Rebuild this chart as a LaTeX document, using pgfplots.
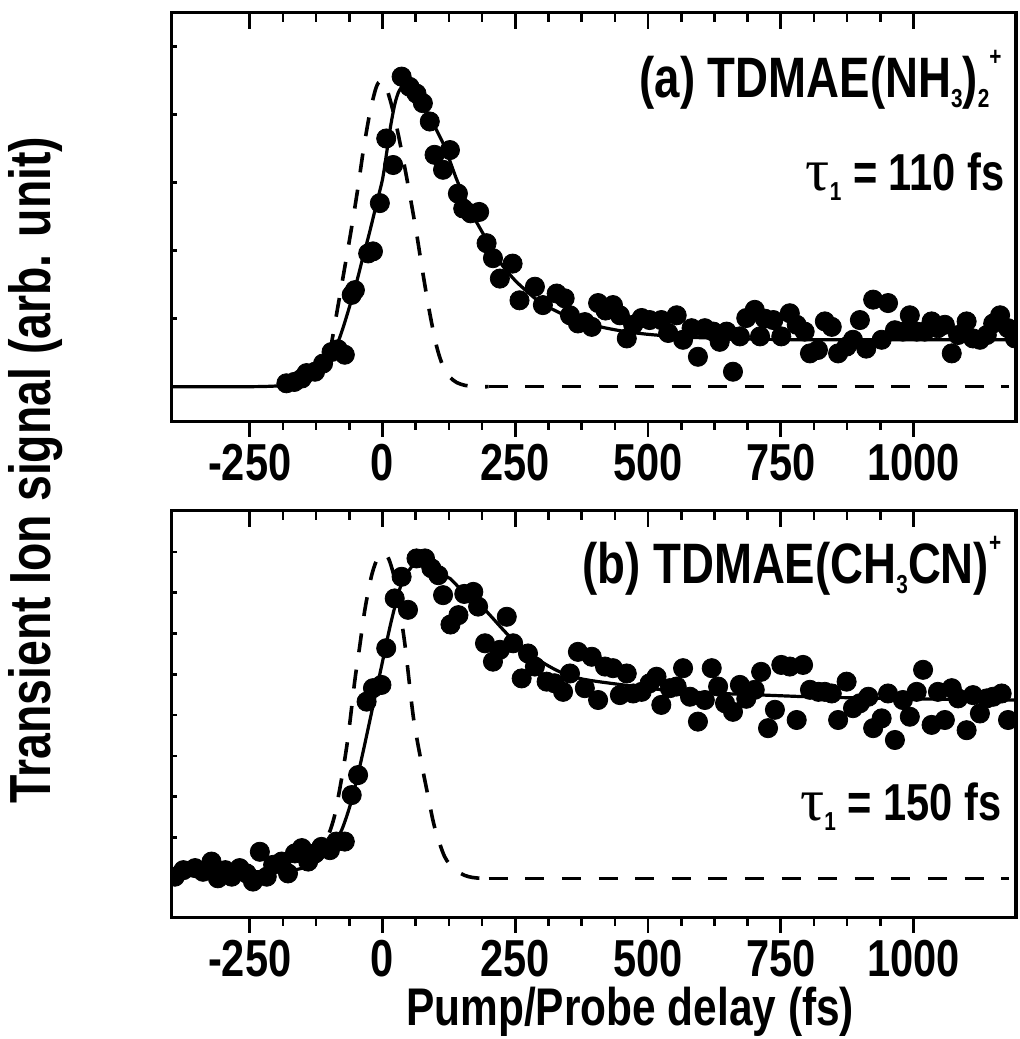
\documentclass[border=0pt]{standalone}
\usepackage{fontspec}
\setmainfont{Liberation Sans}[FakeStretch=0.8]
\newfontfamily\greekfont{Liberation Serif}
\usepackage{pgfplots}
\pgfplotsset{compat=1.18}

% small lowered / raised indices for the species labels
\newcommand\lo[1]{\raisebox{-5pt}{\fontsize{13}{13}\selectfont\bfseries #1}}
\newcommand\hi[1]{\raisebox{16pt}{\fontsize{13}{13}\selectfont\bfseries #1}}

\pgfplotsset{
  panel/.style={scale only axis, width=422.15pt, xmin=-397, xmax=1193,
    axis line style={line width=1.6pt}, tick style={line width=1.3pt, black}},
  databox/.style={panel, xtick=\empty, yticklabels={}, ytick pos=left,
    tick align=inside, major tick length=2.5pt, clip marker paths=true},
  ticksbottom/.style={panel, ytick=\empty, xtick={-250,0,...,1000},
    xticklabels={-250,0,250,500,750,1000}, minor x tick num=3, xtick pos=left,
    tick align=outside, major tick length=7.5pt, minor tick length=4pt,
    xticklabel style={font=\fontsize{26}{26}\selectfont\bfseries}},
  tickstop/.style={panel, ytick=\empty, xtick={-250,0,...,1000}, xticklabels={},
    minor x tick num=3, xtick pos=right, tick align=inside,
    major tick length=8pt, minor tick length=4.5pt},
  fit/.style={black, line width=1.6pt, no marks, smooth},
  irf/.style={black, line width=1.8pt, no marks, dash pattern=on 9.5pt off 8.8pt},
  pts/.style={black, only marks, mark=*, mark size=4.8pt},
}

\begin{document}
\begin{tikzpicture}
\useasboundingbox (0,0) rectangle (510pt,-519.5pt);

% ---------------- panel (a) ----------------
\begin{axis}[databox, at={(85.85pt,-210.85pt)}, anchor=south west, height=204.5pt,
    ymin=-0.515, ymax=5.5, ytick={0,1,2,3,4,5}]
\addplot[irf, smooth] coordinates {
  (-100,0.50) (-96,0.64) (-84,1.18) (-71,1.76) (-58,2.35) (-46,2.94) (-36,3.48)
  (-24,4.02) (-12,4.40) (-3,4.50) (6,4.42) (15,4.20) (23,3.95) (32,3.62) (42,3.22)
  (51,2.84) (64,2.26) (76,1.67) (89,1.08) (102,0.59) (114,0.30) (127,0.14)
  (140,0.06) (155,0.02) (170,0.005) (185,0) (200,0)};
\addplot[irf] coordinates {(200,0) (1180,0)};
\addplot[fit] coordinates {
  (-397,0) (-250,0) (-200,0.01) (-175,0.03) (-150,0.06) (-125,0.16) (-110,0.26)
  (-100,0.38) (-87,0.59) (-75,0.85) (-62,1.18) (-50,1.50) (-37,1.90) (-25,2.25)
  (-11,2.70) (0,3.05) (8,3.45) (15,3.82) (23,4.15) (30,4.33) (36,4.40) (42,4.40)
  (50,4.34) (62,4.25) (75,4.13) (89,3.98) (100,3.80) (114,3.58) (125,3.36)
  (139,3.06) (150,2.86) (164,2.62) (175,2.45) (196,2.16) (210,1.97) (227,1.77)
  (250,1.56) (275,1.38) (300,1.22) (325,1.12) (350,1.03) (400,0.90) (450,0.82)
  (500,0.77) (550,0.74) (600,0.72) (700,0.70) (800,0.69) (1000,0.69) (1193,0.69)};
\addplot[pts] coordinates {
  (-181,0.05) (-166,0.07) (-152,0.12) (-143,0.20) (-127,0.22) (-112,0.34)
  (-96,0.51) (-84,0.55) (-71,0.47) (-58,1.35) (-52,1.42) (-27,1.96) (-18,1.99)
  (-5,2.70) (7,3.65) (20,3.26) (36,4.56) (51,4.41) (64,4.31) (76,4.17) (89,3.90)
  (98,3.41) (114,3.19) (127,3.48) (142,2.84) (152,2.62) (166,2.55) (182,2.57)
  (196,2.11) (208,1.89) (221,1.59) (245,1.81) (258,1.27) (287,1.47) (302,1.20)
  (328,1.37) (343,1.30) (353,1.05) (368,0.93) (381,0.95) (394,0.88) (406,1.23)
  (420,1.12) (434,1.20) (447,1.05) (460,0.71) (472,0.91) (488,1.01) (503,0.98)
  (525,0.98) (538,0.79) (554,1.05) (566,0.69) (582,0.86) (594,0.44) (607,0.86)
  (623,0.81) (635,0.66) (648,0.81) (660,0.22) (673,0.74) (685,1.01) (701,1.13)
  (711,0.74) (720,1.00) (736,0.98) (751,0.74) (767,1.08) (780,0.91) (795,0.81)
  (805,0.49) (820,0.54) (833,0.96) (846,0.88) (858,0.49) (874,0.59) (886,0.69)
  (899,0.98) (911,0.56) (924,1.28) (940,0.69) (952,1.23) (965,0.83) (980,0.81)
  (993,1.05) (1006,0.81) (1021,0.81) (1034,0.96) (1046,0.86) (1059,0.91)
  (1072,0.49) (1084,0.76) (1100,0.96) (1112,0.71) (1125,0.69) (1138,0.76)
  (1150,0.93) (1163,1.05) (1178,0.86) (1191,0.71)};
\end{axis}
\begin{axis}[ticksbottom, at={(85.85pt,-210.85pt)}, anchor=south west, height=204.5pt, ymin=0, ymax=1]
\end{axis}
\begin{axis}[tickstop, at={(85.85pt,-210.85pt)}, anchor=south west, height=204.5pt, ymin=0, ymax=1]
\end{axis}

% ---------------- panel (b) ----------------
\begin{axis}[databox, at={(85.85pt,-458.85pt)}, anchor=south west, height=203.5pt,
    ymin=-0.966, ymax=9.01, ytick={0,1,...,8}]
\addplot[irf, smooth] coordinates {
  (-100,1.12) (-90,1.55) (-77,2.45) (-65,3.45) (-52,4.86) (-43,5.68) (-33,6.60)
  (-20,7.45) (-8,7.88) (2,7.95) (12,7.82) (25,7.20) (42,5.75) (58,3.96) (73,2.85)
  (86,2.00) (98,1.26) (117,0.53) (136,0.22) (155,0.07) (170,0.02) (185,0) (200,0)};
\addplot[irf] coordinates {(200,0) (1180,0)};
\addplot[fit] coordinates {
  (-397,0.15) (-300,0.15) (-200,0.17) (-160,0.22) (-130,0.35) (-110,0.55)
  (-95,0.80) (-77,1.18) (-58,1.92) (-40,2.90) (-21,4.04) (-2,5.19) (17,6.33)
  (36,7.23) (55,7.64) (67,7.80) (80,7.78) (92,7.64) (110,7.45) (127,7.35)
  (150,7.05) (190,6.62) (240,5.92) (290,5.39) (334,5.06) (378,4.88) (453,4.74)
  (528,4.62) (600,4.55) (700,4.50) (800,4.45) (900,4.42) (1000,4.40)
  (1100,4.38) (1193,4.37)};
\addplot[pts] coordinates {
  (-391,0.04) (-375,0.20) (-353,0.25) (-338,0.16) (-322,0.41) (-310,0.00)
  (-296,0.20) (-284,0.04) (-269,0.25) (-256,0.12) (-244,-0.08) (-231,0.65)
  (-218,0.04) (-206,0.33) (-190,0.41) (-178,0.12) (-165,0.61) (-152,0.74)
  (-140,0.41) (-127,0.61) (-115,0.77) (-99,0.69) (-87,0.90) (-71,0.90)
  (-58,2.04) (-46,2.53) (-30,4.33) (-18,4.66) (-2,4.74) (7,5.64) (23,6.86)
  (36,7.39) (48,6.58) (64,7.84) (80,7.84) (92,7.60) (105,7.43) (114,6.94)
  (128,6.22) (143,6.45) (154,6.97) (171,7.02) (180,6.66) (193,5.76) (208,5.31)
  (221,5.60) (234,6.41) (246,5.76) (262,4.90) (274,5.51) (287,5.19) (309,4.82)
  (324,4.78) (340,4.57) (353,5.02) (368,5.55) (381,4.66) (394,5.43) (406,4.37)
  (419,5.19) (434,5.15) (447,4.49) (460,5.02) (472,4.53) (488,4.57) (503,4.78)
  (516,4.94) (525,4.25) (541,4.66) (554,4.70) (566,5.15) (579,4.45) (594,3.84)
  (607,4.37) (620,5.15) (632,4.70) (645,4.29) (660,4.08) (673,4.74) (685,4.40)
  (701,4.62) (713,5.06) (726,3.68) (739,4.13) (751,5.23) (767,5.19) (780,3.88)
  (792,5.23) (805,4.62) (821,4.57) (833,4.57) (846,4.53) (858,3.88) (874,4.82)
  (886,4.17) (899,4.29) (915,4.45) (924,3.68) (940,3.92) (952,4.53) (965,3.39)
  (980,4.37) (993,3.96) (1006,4.57) (1018,5.11) (1034,3.76) (1046,4.57)
  (1059,3.88) (1072,4.66) (1084,4.41) (1100,3.63) (1112,4.49) (1125,4.04)
  (1138,4.41) (1150,4.45) (1166,4.53) (1178,3.88)};
\end{axis}
\begin{axis}[ticksbottom, at={(85.85pt,-458.85pt)}, anchor=south west, height=203.5pt, ymin=0, ymax=1,
    xlabel={Pump/Probe delay (fs)},
    xlabel style={font=\fontsize{26.5}{26.5}\selectfont\bfseries, anchor=base,
      at={(axis description cs:0.543,-0.266)}}]
\end{axis}
\begin{axis}[tickstop, at={(85.85pt,-458.85pt)}, anchor=south west, height=203.5pt, ymin=0, ymax=1]
\end{axis}

% labels
\node[rotate=90, anchor=base, font=\fontsize{29}{29}\selectfont\bfseries]
  at (25pt,-235pt) {Transient Ion signal (arb. unit)};
\node[anchor=base east, font=\fontsize{28.5}{28.5}\selectfont\bfseries, inner sep=0pt]
  at (501pt,-48.5pt) {(a) TDMAE(NH\lo{3})\lo{2}\hi{+}};
\node[anchor=base east, font=\fontsize{26}{26}\selectfont\bfseries, inner sep=0pt]
  at (502.5pt,-95pt) {{\greekfont\mdseries\fontsize{30}{30}\selectfont τ}\lo{1} = 110 fs};
\node[anchor=base east, font=\fontsize{28.5}{28.5}\selectfont\bfseries, inner sep=0pt]
  at (500.8pt,-291.7pt) {(b) TDMAE(CH\lo{3}CN)\hi{+}};
\node[anchor=base east, font=\fontsize{26}{26}\selectfont\bfseries, inner sep=0pt]
  at (500.8pt,-410pt) {{\greekfont\mdseries\fontsize{30}{30}\selectfont τ}\lo{1} = 150 fs};
\end{tikzpicture}
\end{document}
